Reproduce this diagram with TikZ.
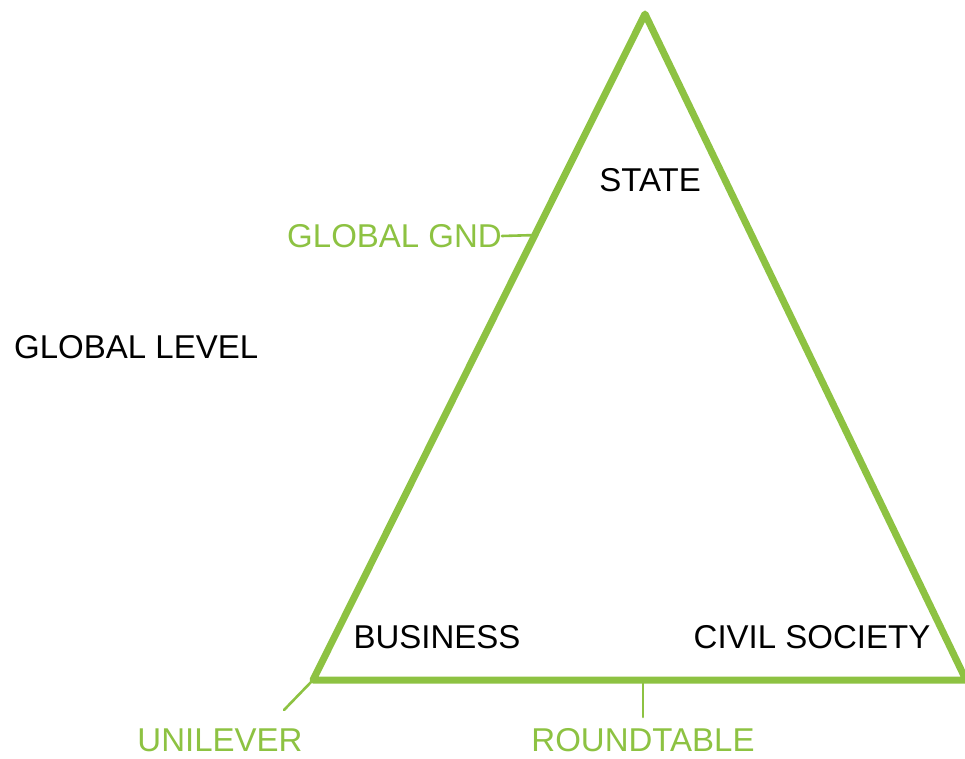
\documentclass[tikz,border=0pt]{standalone}
\usepackage{fontspec}
\setmainfont{Liberation Sans}
\usepackage{tikz}
\definecolor{leaf}{RGB}{141,194,66}

\begin{document}
\begin{tikzpicture}[x=1pt,y=1pt,
		side/.style={draw=leaf,line width=7pt,line join=round,line cap=round},
		tick/.style={draw=leaf,line width=2.6pt,line cap=round},
		actor/.style={font=\fontsize{33}{33}\selectfont,text=black,inner sep=0pt},
		case/.style={font=\fontsize{33}{33}\selectfont,text=leaf,inner sep=0pt}]
		\useasboundingbox (0,0) rectangle (965,758);
		\coordinate (top) at (645,744);
		\coordinate (left) at (313,78);
		\coordinate (right) at (966,78);
		\draw[side] (left) -- (top) -- (right) -- cycle;
		\node[actor](state) at (650,578){STATE};
		\node[actor](business) at (437,121){BUSINESS};
		\node[actor](civil) at (812,121){CIVIL SOCIETY};
		\node[actor,anchor=west](level) at (14,411){GLOBAL LEVEL};
		\node[case,anchor=east](gnd) at (502,522){GLOBAL GND};
		\coordinate (gndend) at (537,523);
		\draw[tick] (gnd.east) -- (gndend);
		\coordinate (midbase) at (643,78);
		\coordinate (midend) at (643,41);
		\draw[tick] (midbase) -- (midend);
		\node[case](roundtable) at (643,18){ROUNDTABLE};
		\node[case](unilever) at (220,18){UNILEVER};
		\coordinate (uniend) at (284,48);
		\draw[tick] (left) -- (uniend);
	\end{tikzpicture}
\end{document}
